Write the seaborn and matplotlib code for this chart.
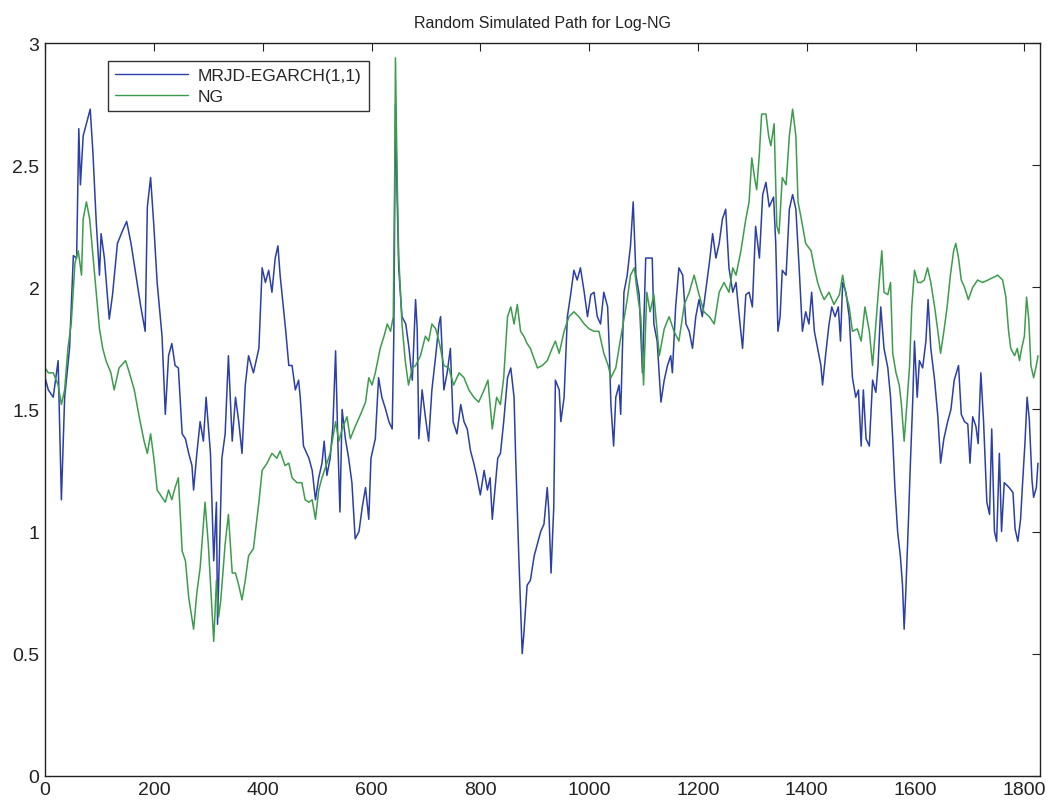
import numpy as np
import pandas as pd
import matplotlib
matplotlib.use("Agg")
import matplotlib.pyplot as plt
import seaborn as sns

# Simulated MRJD-EGARCH(1,1) path for log natural gas prices (day index, value)
mrjd_day = [0, 6, 15, 24, 30, 36, 45, 52, 58, 62, 65, 70, 76, 83, 88, 94, 100, 103, 109, 118,
            124, 133, 142, 150, 158, 167, 176, 184, 188, 194, 200, 206, 215, 221, 227, 233, 239,
            245, 252, 258, 264, 270, 273, 279, 285, 291, 296, 304, 310, 315, 317, 321, 325, 331,
            337, 344, 350, 356, 362, 368, 374, 383, 393, 399, 405, 411, 417, 423, 428, 432, 442,
            448, 454, 460, 466, 469, 475, 485, 491, 497, 503, 509, 513, 518, 524, 529, 534, 538,
            542, 546, 552, 558, 564, 570, 577, 583, 589, 595, 599, 607, 613, 619, 626, 632, 638,
            641, 644, 647, 650, 656, 663, 669, 675, 681, 684, 687, 693, 699, 705, 711, 718, 724,
            727, 733, 739, 745, 750, 757, 764, 770, 776, 782, 788, 794, 800, 807, 813, 818, 822,
            828, 832, 837, 843, 850, 856, 862, 865, 871, 877, 880, 886, 892, 899, 905, 911, 917,
            923, 926, 930, 935, 938, 945, 948, 954, 960, 966, 972, 978, 984, 991, 997, 1003, 1009,
            1015, 1021, 1027, 1034, 1037, 1040, 1045, 1049, 1055, 1058, 1064, 1070, 1076, 1081,
            1086, 1092, 1098, 1104, 1110, 1116, 1119, 1125, 1132, 1138, 1144, 1150, 1153, 1159,
            1165, 1172, 1178, 1184, 1190, 1196, 1202, 1208, 1214, 1221, 1227, 1233, 1239, 1245,
            1251, 1257, 1264, 1270, 1276, 1282, 1288, 1294, 1300, 1306, 1313, 1319, 1325, 1331,
            1339, 1343, 1347, 1351, 1355, 1362, 1368, 1374, 1380, 1386, 1392, 1398, 1404, 1409,
            1414, 1420, 1426, 1429, 1435, 1441, 1446, 1452, 1458, 1462, 1466, 1472, 1478, 1484,
            1490, 1495, 1500, 1504, 1509, 1515, 1521, 1527, 1531, 1536, 1542, 1549, 1554, 1558,
            1562, 1567, 1572, 1576, 1579, 1582, 1587, 1590, 1595, 1598, 1603, 1607, 1613, 1619,
            1623, 1628, 1635, 1641, 1646, 1652, 1659, 1665, 1671, 1679, 1684, 1690, 1696, 1700,
            1705, 1711, 1715, 1720, 1725, 1731, 1736, 1740, 1745, 1749, 1754, 1758, 1763, 1772,
            1779, 1783, 1788, 1793, 1797, 1801, 1805, 1809, 1814, 1817, 1822, 1825]
mrjd_val = [1.63, 1.58, 1.55, 1.70, 1.13, 1.55, 1.75, 2.13, 2.12, 2.65, 2.42, 2.62, 2.67, 2.73,
            2.55, 2.27, 2.05, 2.22, 2.12, 1.87, 1.97, 2.18, 2.23, 2.27, 2.18, 2.05, 1.92, 1.82,
            2.33, 2.45, 2.25, 2.02, 1.80, 1.48, 1.72, 1.77, 1.68, 1.67, 1.40, 1.38, 1.32, 1.27,
            1.17, 1.32, 1.45, 1.37, 1.55, 1.32, 0.88, 1.12, 0.62, 0.95, 1.30, 1.40, 1.72, 1.37,
            1.55, 1.45, 1.32, 1.60, 1.72, 1.65, 1.75, 2.08, 2.02, 2.07, 1.98, 2.12, 2.17, 2.05,
            1.83, 1.68, 1.68, 1.58, 1.62, 1.55, 1.35, 1.30, 1.25, 1.13, 1.22, 1.28, 1.37, 1.23,
            1.30, 1.43, 1.74, 1.38, 1.08, 1.50, 1.38, 1.30, 1.20, 0.97, 1.00, 1.10, 1.18, 1.05,
            1.30, 1.38, 1.63, 1.55, 1.50, 1.45, 1.42, 1.80, 2.75, 2.38, 2.08, 1.88, 1.85, 1.75,
            1.62, 1.95, 1.83, 1.38, 1.58, 1.47, 1.37, 1.58, 1.72, 1.85, 1.88, 1.58, 1.65, 1.75,
            1.45, 1.40, 1.52, 1.45, 1.42, 1.33, 1.28, 1.22, 1.15, 1.25, 1.17, 1.22, 1.05, 1.20,
            1.30, 1.32, 1.45, 1.63, 1.67, 1.55, 1.30, 0.88, 0.50, 0.58, 0.78, 0.80, 0.90, 0.95,
            1.00, 1.03, 1.18, 1.08, 0.83, 1.10, 1.62, 1.58, 1.45, 1.55, 1.88, 1.97, 2.07, 2.03,
            2.08, 1.98, 1.88, 1.97, 1.98, 1.88, 1.85, 1.98, 1.92, 1.75, 1.52, 1.35, 1.55, 1.60,
            1.48, 1.98, 2.05, 2.17, 2.35, 2.05, 1.97, 1.65, 2.12, 2.12, 2.12, 1.85, 1.78, 1.53,
            1.62, 1.68, 1.72, 1.65, 1.92, 2.08, 2.05, 1.85, 1.82, 1.75, 1.88, 1.95, 1.88, 1.98,
            2.10, 2.22, 2.12, 2.18, 2.28, 2.32, 2.08, 1.98, 2.02, 1.88, 1.75, 1.97, 1.98, 1.92,
            2.25, 2.12, 2.38, 2.43, 2.33, 2.37, 2.18, 1.82, 1.88, 2.07, 2.05, 2.32, 2.38, 2.32,
            2.08, 1.82, 1.90, 1.85, 1.98, 1.82, 1.75, 1.68, 1.60, 1.73, 1.85, 1.92, 1.88, 1.92,
            1.78, 2.02, 1.98, 1.88, 1.63, 1.55, 1.58, 1.35, 1.58, 1.38, 1.35, 1.62, 1.57, 1.68,
            1.92, 1.75, 1.67, 1.55, 1.38, 1.18, 1.00, 0.90, 0.78, 0.60, 0.75, 1.05, 1.25, 1.55,
            1.78, 1.55, 1.70, 1.67, 1.78, 1.95, 1.75, 1.62, 1.47, 1.28, 1.38, 1.45, 1.50, 1.62,
            1.68, 1.48, 1.45, 1.44, 1.28, 1.47, 1.43, 1.36, 1.65, 1.45, 1.12, 1.07, 1.42, 1.00,
            0.96, 1.32, 1.00, 1.20, 1.18, 1.16, 1.01, 0.96, 1.05, 1.21, 1.36, 1.55, 1.46, 1.21,
            1.14, 1.18, 1.28]

# Observed log natural gas prices (day index, value)
ng_day = [0, 6, 15, 24, 30, 36, 42, 48, 55, 61, 67, 70, 76, 82, 88, 94, 100, 106, 112, 121, 127,
          136, 148, 155, 164, 173, 182, 188, 194, 200, 206, 212, 221, 227, 233, 239, 245, 252, 258,
          264, 273, 279, 285, 294, 300, 307, 310, 315, 319, 323, 331, 337, 344, 350, 356, 362,
          368, 374, 383, 393, 399, 408, 417, 426, 432, 441, 448, 454, 463, 472, 478, 485, 491,
          497, 503, 509, 518, 524, 534, 540, 546, 555, 561, 570, 580, 589, 595, 601, 607, 616,
          623, 629, 635, 640, 643, 644, 647, 650, 656, 662, 668, 675, 681, 690, 699, 705, 711,
          718, 724, 733, 742, 751, 761, 770, 779, 788, 797, 807, 814, 822, 830, 837, 843, 850,
          856, 862, 868, 874, 880, 886, 892, 905, 914, 923, 932, 938, 945, 954, 963, 972, 981,
          991, 1000, 1009, 1018, 1027, 1035, 1040, 1049, 1057, 1064, 1070, 1076, 1083, 1089,
          1095, 1100, 1106, 1112, 1119, 1129, 1138, 1147, 1156, 1165, 1175, 1184, 1193, 1202,
          1211, 1221, 1230, 1239, 1248, 1257, 1264, 1270, 1279, 1288, 1294, 1299, 1304, 1308,
          1313, 1317, 1325, 1330, 1334, 1340, 1345, 1349, 1355, 1362, 1368, 1374, 1380, 1384,
          1390, 1398, 1408, 1414, 1420, 1426, 1432, 1441, 1450, 1460, 1466, 1472, 1478, 1484,
          1493, 1500, 1507, 1515, 1521, 1527, 1533, 1538, 1542, 1549, 1554, 1558, 1564, 1570,
          1574, 1579, 1584, 1589, 1593, 1598, 1604, 1610, 1616, 1622, 1628, 1635, 1641, 1646,
          1652, 1658, 1664, 1670, 1674, 1679, 1684, 1690, 1697, 1705, 1714, 1723, 1733, 1742,
          1751, 1760, 1766, 1771, 1775, 1782, 1787, 1791, 1795, 1800, 1804, 1808, 1812, 1817,
          1822, 1825]
ng_val = [1.67, 1.65, 1.65, 1.60, 1.52, 1.58, 1.75, 1.85, 2.10, 2.15, 2.05, 2.28, 2.35, 2.28,
          2.13, 1.98, 1.83, 1.75, 1.70, 1.65, 1.58, 1.67, 1.70, 1.65, 1.58, 1.47, 1.37, 1.32,
          1.40, 1.30, 1.17, 1.15, 1.12, 1.17, 1.13, 1.18, 1.22, 0.92, 0.88, 0.73, 0.60, 0.75,
          0.85, 1.12, 0.95, 0.67, 0.55, 0.80, 0.65, 0.72, 0.95, 1.07, 0.83, 0.83, 0.78, 0.72,
          0.80, 0.90, 0.93, 1.12, 1.25, 1.28, 1.32, 1.30, 1.33, 1.27, 1.28, 1.22, 1.20, 1.20,
          1.13, 1.12, 1.13, 1.05, 1.17, 1.22, 1.28, 1.32, 1.45, 1.37, 1.42, 1.47, 1.38, 1.43,
          1.48, 1.53, 1.63, 1.60, 1.65, 1.75, 1.80, 1.85, 1.82, 1.88, 2.55, 2.94, 2.47, 2.13,
          1.85, 1.70, 1.60, 1.67, 1.68, 1.72, 1.80, 1.78, 1.85, 1.83, 1.78, 1.68, 1.67, 1.60,
          1.65, 1.63, 1.58, 1.55, 1.53, 1.58, 1.62, 1.42, 1.55, 1.52, 1.63, 1.88, 1.92, 1.85,
          1.93, 1.82, 1.80, 1.77, 1.75, 1.67, 1.68, 1.70, 1.75, 1.78, 1.73, 1.82, 1.88, 1.90,
          1.88, 1.85, 1.83, 1.82, 1.82, 1.73, 1.68, 1.63, 1.67, 1.78, 1.87, 1.95, 2.05, 2.08,
          1.97, 1.88, 1.60, 1.98, 1.90, 1.97, 1.72, 1.83, 1.88, 1.82, 1.78, 1.93, 1.98, 2.05,
          1.97, 1.90, 1.88, 1.85, 1.98, 2.02, 1.98, 2.08, 2.05, 2.15, 2.28, 2.35, 2.53, 2.45,
          2.40, 2.55, 2.71, 2.71, 2.62, 2.58, 2.67, 2.25, 2.22, 2.45, 2.42, 2.62, 2.73, 2.62,
          2.35, 2.28, 2.18, 2.15, 2.08, 2.02, 1.98, 1.95, 1.98, 1.93, 1.97, 2.05, 1.97, 1.92,
          1.82, 1.83, 1.78, 1.92, 1.82, 1.68, 1.85, 2.02, 2.15, 1.98, 1.97, 2.02, 1.73, 1.65,
          1.60, 1.52, 1.37, 1.52, 1.68, 1.92, 2.07, 2.02, 2.02, 2.03, 2.08, 2.02, 1.92, 1.82,
          1.73, 1.82, 1.92, 2.05, 2.15, 2.18, 2.12, 2.03, 2.00, 1.95, 2.00, 2.03, 2.02, 2.03,
          2.04, 2.05, 2.03, 1.96, 1.82, 1.75, 1.72, 1.75, 1.70, 1.75, 1.80, 1.96, 1.87, 1.68,
          1.63, 1.68, 1.72]

x_ticks = [0, 200, 400, 600, 800, 1000, 1200, 1400, 1600, 1800]
y_ticks = [0, 0.5, 1, 1.5, 2, 2.5, 3]
y_tick_labels = ["0", "0.5", "1", "1.5", "2", "2.5", "3"]

sns.set_style("white")
plt.rcParams["font.family"] = ["Liberation Sans", "DejaVu Sans"]
tick_family = ["Liberation Sans Narrow", "Liberation Sans", "DejaVu Sans"]

fig = plt.figure(figsize=(10.48, 8.04), dpi=100)
ax = fig.add_axes([0.043, 0.034, 0.949, 0.911])

mrjd = pd.DataFrame({"day": mrjd_day, "value": mrjd_val})
ng = pd.DataFrame({"day": ng_day, "value": ng_val})

sns.lineplot(data=mrjd, x="day", y="value", ax=ax, color="#2b3fa6", linewidth=1.1,
             label="MRJD-EGARCH(1,1)", sort=False)
sns.lineplot(data=ng, x="day", y="value", ax=ax, color="#3c9c4c", linewidth=1.1,
             label="NG", sort=False)

ax.set_xlim(0, 1828)
ax.set_ylim(0, 3)
ax.set_xticks(x_ticks)
ax.set_xticklabels([str(t) for t in x_ticks], family=tick_family, fontsize=14)
ax.set_yticks(y_ticks)
ax.set_yticklabels(y_tick_labels, family=tick_family, fontsize=14)
ax.set_xlabel("")
ax.set_ylabel("")
ax.tick_params(direction="in", length=6, width=0.8, top=True, right=True,
               colors="#222222", pad=4)
for side in ax.spines.values():
    side.set_color("#222222")
    side.set_linewidth(1.0)

ax.set_title("Random Simulated Path for Log-NG", fontsize=11.5, pad=12, color="#222222")

leg = ax.legend(loc="upper left", bbox_to_anchor=(0.063, 0.976), borderaxespad=0,
                fancybox=False, edgecolor="#333333", framealpha=1, fontsize=12.5,
                handlelength=4.2, handletextpad=0.6, borderpad=0.4, labelspacing=0.35)
leg.get_frame().set_linewidth(1.0)
for line in leg.get_lines():
    line.set_linewidth(1.0)

fig.savefig("out.png", dpi=100, facecolor="white")
